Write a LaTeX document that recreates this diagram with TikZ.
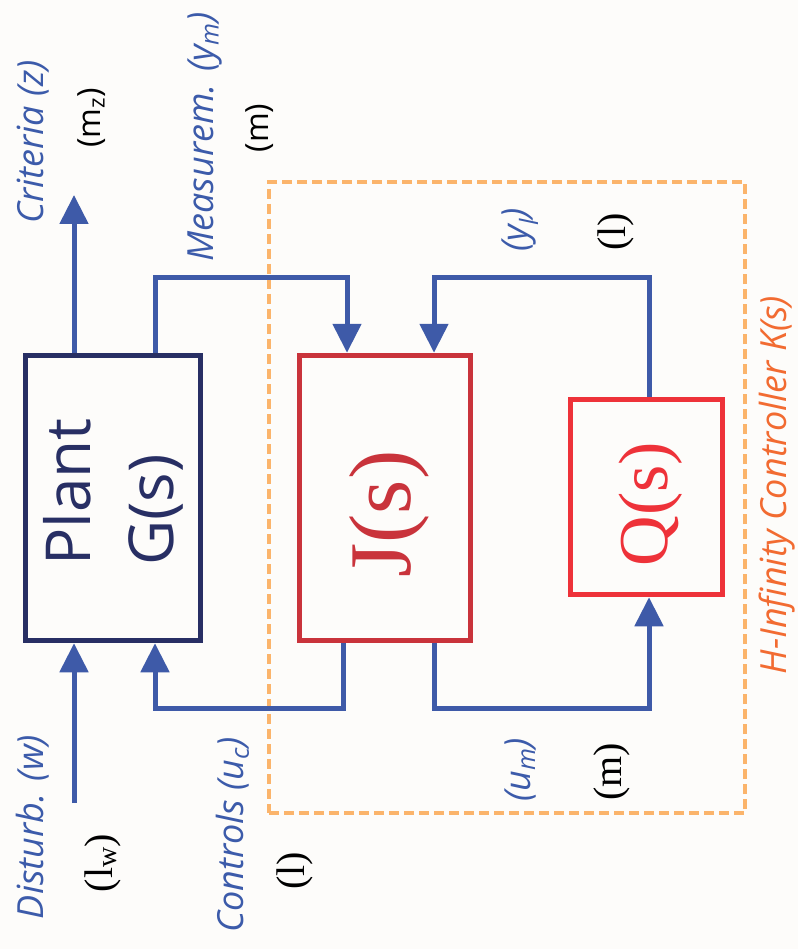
\documentclass[tikz,border=0pt]{standalone}
\usepackage{fontspec}
\setmainfont{Liberation Serif}
\newfontfamily\osans{Open Sans}
\usetikzlibrary{arrows.meta}
\definecolor{bgc}{HTML}{FDFCFA}
\definecolor{lineblue}{HTML}{3E5AA8}
\definecolor{textblue}{HTML}{3C5BAA}
\definecolor{navy}{HTML}{282F64}
\definecolor{jred}{HTML}{C9333B}
\definecolor{qred}{HTML}{EE3239}
\definecolor{dashor}{HTML}{FBB46B}
\definecolor{txtor}{HTML}{F26B31}
\tikzset{
  blk/.style={draw, line width=5.5pt, inner sep=0pt},
  wire/.style={draw=lineblue, line width=5pt, line join=miter, -{Triangle[width=28pt,length=29pt]}},
  lbl/.style={rotate=90, inner sep=0pt, text=textblue, font=\osans\itshape\fontsize{36}{42}\selectfont},
  sidx/.style={rotate=90, inner sep=0pt, text=black, font=\osans\fontsize{32}{38}\selectfont},
  ridx/.style={rotate=90, inner sep=0pt, text=black, font=\rmfamily\fontsize{40}{46}\selectfont},
  bigser/.style={rotate=90, inner sep=0pt, font=\rmfamily\fontsize{88}{100}\selectfont}
}
\begin{document}
\begin{tikzpicture}[x=1pt,y=-1pt]
\path[fill=bgc, use as bounding box] (0,0) rectangle (798,949);

% controller frame
\node[draw=dashor, line width=4.5pt, dash pattern=on 10pt off 5pt, inner sep=0pt,
      minimum width=476pt, minimum height=631pt] (kframe) at (507,497.5) {};

% blocks
\node[blk, draw=navy, minimum width=175pt, minimum height=285pt] (plant) at (113,498) {};
\node[blk, draw=jred, minimum width=171pt, minimum height=285pt] (jbox) at (385,498) {};
\node[blk, draw=qred, minimum width=152pt, minimum height=195pt] (qbox) at (646.5,497) {};

\node[rotate=90, inner sep=0pt, text=navy, align=left, font=\osans\fontsize{62}{83}\selectfont] (ptext) at (113,492) {Plant\\G(s)};
\node[bigser, text=jred] (jtext) at (389,514) {J(s)};
\node[bigser, text=qred, font=\rmfamily\fontsize{70}{80}\selectfont] (qtext) at (651,504) {Q(s)};

% coordinates
\coordinate (critend) at (74,195);
\coordinate (distend) at (74,803);
\coordinate (mtop) at (155,278);
\coordinate (jin1) at (347,278);
\coordinate (jin2) at (434,278);
\coordinate (qtop) at (649,278);
\coordinate (jout1) at (343,708);
\coordinate (jout2) at (434,708);
\coordinate (qbot) at (649,708);
\coordinate (cbot) at (155,708);

% wires
\draw[wire] (plant.north -| critend) -- (critend);
\draw[wire] (distend) -- (distend |- plant.south);
\draw[wire] (plant.north -| mtop) -- (mtop) -- (jin1) -- (jin1 |- jbox.north);
\draw[wire] (qbox.north -| qtop) -- (qtop) -- (jin2) -- (jin2 |- jbox.north);
\draw[wire] (jbox.south -| jout1) -- (jout1) -- (cbot) -- (cbot |- plant.south);
\draw[wire] (jbox.south -| jout2) -- (jout2) -- (qbot) -- (qbot |- qbox.south);

% labels
\node[lbl] (lcrit) at (33,142) {Criteria (z)};
\node[sidx] (lmz) at (92,118) {(m\textsubscript{z})};
\node[lbl] (lmeas) at (205,137) {Measurem. (y\textsubscript{m})};
\node[sidx] (lm1) at (260,128) {(m)};
\node[lbl] (lyl) at (520,230) {(y\textsubscript{l})};
\node[ridx] (ll1) at (616,232) {(l)};
\node[lbl] (lum) at (520,770) {(u\textsubscript{m})};
\node[ridx] (lm2) at (612,772) {(m)};
\node[lbl, text=txtor] (lk) at (777,485) {H-Infinity Controller K(s)};
\node[lbl] (ldist) at (33,827) {Disturb. (w)};
\node[ridx] (llw) at (103,863) {(l\textsubscript{w})};
\node[lbl] (lctrl) at (233,835) {Controls (u\textsubscript{c})};
\node[ridx] (ll2) at (295,871) {(l)};
\end{tikzpicture}
\end{document}
